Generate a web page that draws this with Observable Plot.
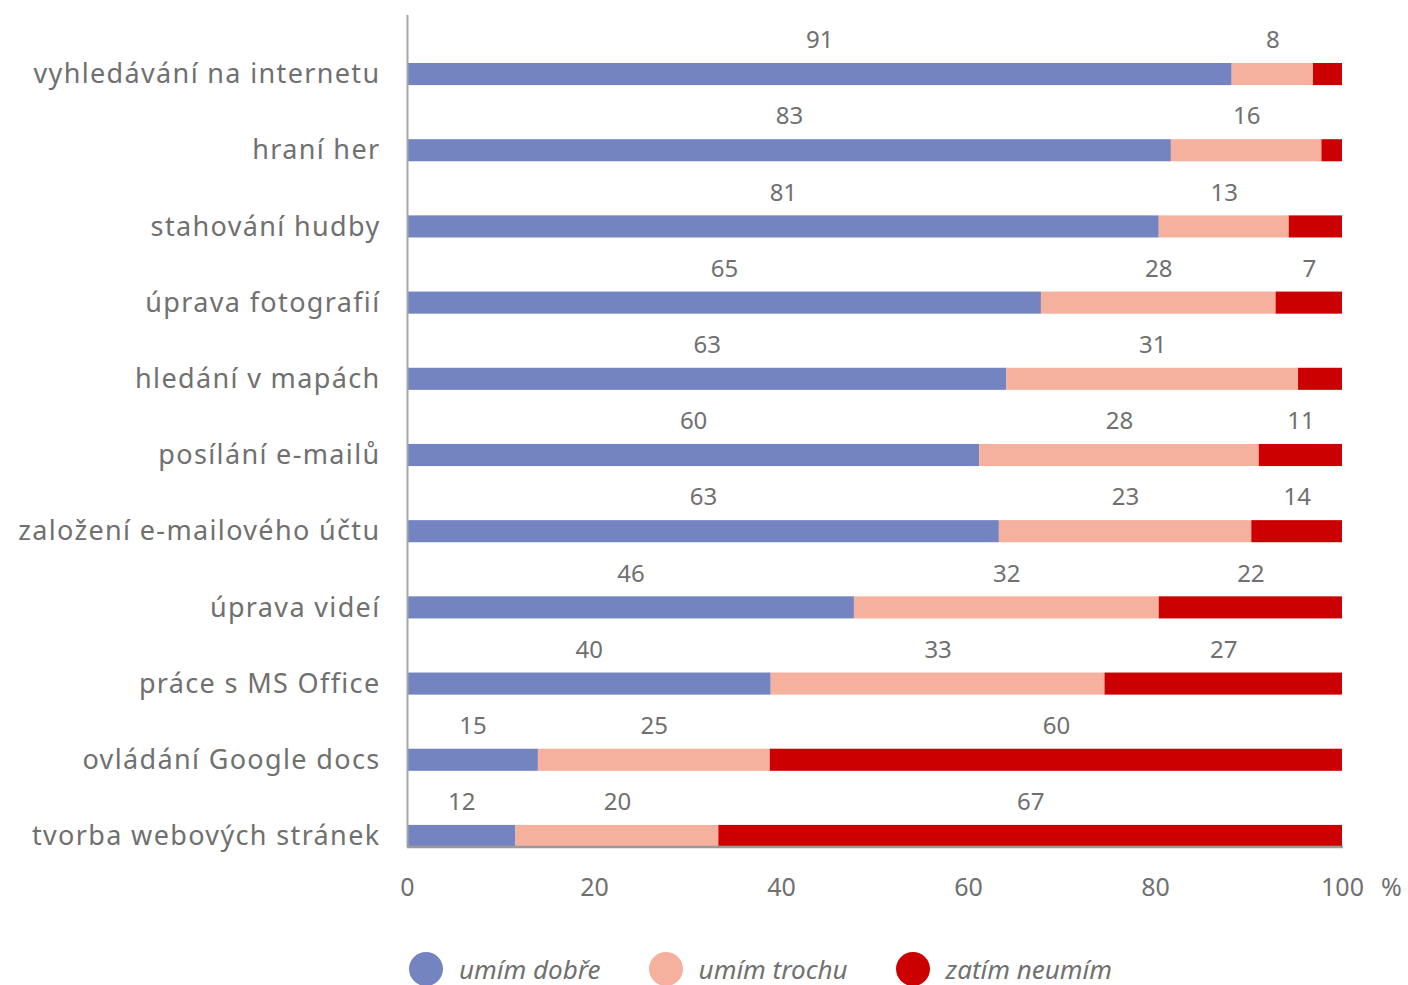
<!DOCTYPE html>
<html><head><meta charset="utf-8">
<script src="https://cdn.jsdelivr.net/npm/d3@7"></script>
<script src="https://cdn.jsdelivr.net/npm/@observablehq/plot@0.6"></script>
<style>
body{margin:0;background:#fff;font-family:"Noto Sans",sans-serif;overflow:hidden}
#chart svg{display:block}
g[aria-label^="y-axis"] text{font-size:27px;letter-spacing:1.35px}
g[aria-label^="x-axis"] text{font-size:25px}
.legend{display:flex;align-items:center;margin:37px 0 0 409px;height:34px;color:#707070;font-style:italic;font-size:26px}
.item{display:flex;align-items:center;margin-right:48px}
.sw{width:34px;height:34px;border-radius:50%;margin-right:16px;flex:none}
</style></head><body>
<div id="chart"></div><div class="legend" id="legend"></div>
<script>
const activities = ["vyhledávání na internetu","hraní her","stahování hudby","úprava fotografií","hledání v mapách","posílání e-mailů","založení e-mailového účtu","úprava videí","práce s MS Office","ovládání Google docs","tvorba webových stránek"];
const levels = ["umím dobře","umím trochu","zatím neumím"];
const colors = ["#7384C1","#F5B19E","#CC0000"];
// bar lengths as drawn (%)
const good = [88.2,81.7,80.4,67.8,64.1,61.2,63.3,47.8,38.9,14.0,11.6];
const some = [8.7,16.1,13.9,25.1,31.2,29.9,27.0,32.6,35.7,24.8,21.7];
const none = [3.1,2.2,5.7,7.1,4.7,8.9,9.7,19.6,25.4,61.2,66.7];
// printed data labels
const goodLabels = [91,83,81,65,63,60,63,46,40,15,12];
const someLabels = [8,16,13,28,31,28,23,32,33,25,20];
const noneLabels = [null,null,null,7,null,11,14,22,27,60,67];
const xTicks = [0,20,40,60,80,100];
const unit = "%";

const series = [[good, goodLabels],[some, someLabels],[none, noneLabels]];
const data = [];
activities.forEach((a,i) => series.forEach(([v,l],j) => data.push({activity:a, level:levels[j], value:v[i], label:l[i]})));

function bottomLine() {
  const dims = [...arguments].find(a => a && a.marginLeft !== undefined);
  const y = dims.height - dims.marginBottom;
  return d3.create("svg:line").attr("x1", dims.marginLeft).attr("x2", dims.width - dims.marginRight + 1)
    .attr("y1", y).attr("y2", y).attr("stroke", "#9a9a9a").attr("stroke-width", 2.5).node();
}

const chart = Plot.plot({
  width: 1408, height: 915,
  marginLeft: 407, marginRight: 66, marginTop: 15, marginBottom: 68,
  style: {fontFamily: "'Noto Sans', sans-serif", color: "#707070", background: "#fff", overflow: "visible"},
  x: {domain: [0, d3.max(xTicks)], ticks: xTicks, tickSize: 0, tickPadding: 31, label: null},
  y: {domain: activities, paddingInner: 0.71, paddingOuter: 0.315, align: 1, round: false, tickSize: 0, tickPadding: 27, label: null},
  color: {domain: levels, range: colors},
  marks: [
    Plot.barX(data, Plot.stackX({x: "value", y: "activity", fill: "level"})),
    Plot.text(data, Plot.stackX({x: "value", y: "activity", z: "level", text: "label", dy: -34, fontSize: 24, fill: "#707070"})),
    Plot.ruleX([0], {stroke: "#a6a6a6", strokeWidth: 2}),
    bottomLine,
    Plot.text([unit], {x: () => d3.max(xTicks), text: d => d, frameAnchor: "bottom", lineAnchor: "middle", dy: 40, dx: 49, fontSize: 25, fill: "#707070"})
  ]
});
document.getElementById("chart").appendChild(chart);

const legend = document.getElementById("legend");
levels.forEach((l,i) => {
  const it = document.createElement("div"); it.className = "item";
  const sw = document.createElement("div"); sw.className = "sw"; sw.style.background = colors[i];
  const tx = document.createElement("span"); tx.textContent = l;
  it.appendChild(sw); it.appendChild(tx); legend.appendChild(it);
});
</script>
</body></html>
